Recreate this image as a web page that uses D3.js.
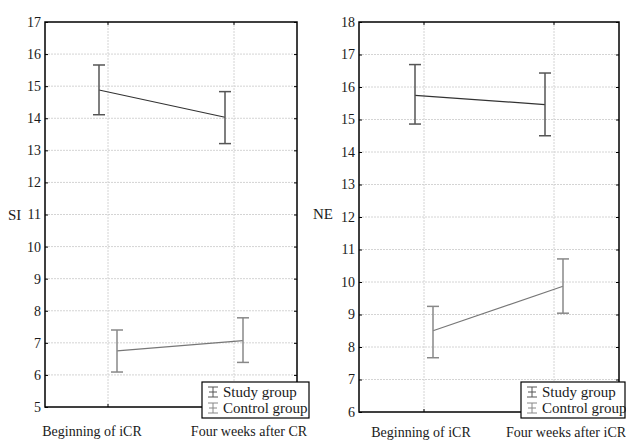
<!DOCTYPE html>
<html><head><meta charset="utf-8">
<script src="https://cdn.jsdelivr.net/npm/d3@7"></script>
<style>body{margin:0;background:#fff;}svg text{font-family:"Liberation Serif","Times New Roman",serif;}</style>
</head><body>
<script>
const groups = ["Study group", "Control group"];
const categoriesSI = ["Beginning of iCR", "Four weeks after CR"];
const categoriesNE = ["Beginning of iCR", "Four weeks after iCR"];
// SI panel: [mean, lower, upper]
const siStudy   = [[14.88, 14.11, 15.66], [14.03, 13.21, 14.83]];
const siControl = [[6.75, 6.09, 7.40], [7.07, 6.39, 7.78]];
// NE panel
const neStudy   = [[15.74, 14.86, 16.69], [15.46, 14.50, 16.43]];
const neControl = [[8.50, 7.67, 9.25], [9.87, 9.04, 10.71]];
const siTicks = [5,6,7,8,9,10,11,12,13,14,15,16,17];
const neTicks = [6,7,8,9,10,11,12,13,14,15,16,17,18];

const W = 626, H = 441;
const FONT = '"Liberation Serif","Times New Roman",serif';
const svg = d3.select("body").append("svg").attr("width", W).attr("height", H);

const groupColor = ["#555", "#888"];
const lineColor = ["#333", "#777"];
const dodge = [-9, 9];

function panel(cfg) {
  const g = svg.append("g");
  const x = d3.scaleBand().domain(cfg.cats).range([cfg.x0, cfg.x1]).padding(0);
  const y = d3.scaleLinear().domain([cfg.ticks[0], cfg.ticks[cfg.ticks.length-1]]).range([cfg.y1, cfg.y0]);
  const cx = c => x(c) + x.bandwidth()/2;

  // grid
  g.selectAll(".hg").data(cfg.ticks.slice(1, -1)).join("line")
    .attr("x1", cfg.x0).attr("x2", cfg.x1).attr("y1", d => y(d)).attr("y2", d => y(d))
    .attr("stroke", "#d4d4d4").attr("stroke-width", 1).attr("stroke-dasharray", "2,1");
  g.selectAll(".vg").data(cfg.cats).join("line")
    .attr("x1", cx).attr("x2", cx).attr("y1", cfg.y0).attr("y2", cfg.y1)
    .attr("stroke", "#d4d4d4").attr("stroke-width", 1).attr("stroke-dasharray", "2,1");

  // axes
  const yl = d3.axisLeft(y).tickValues(cfg.ticks).tickSize(-3).tickPadding(4);
  const ga = g.append("g").attr("transform", `translate(${cfg.x0},0)`).call(yl);
  ga.select(".domain").remove();
  ga.selectAll("text").attr("font-size", 14).attr("fill", "#1a1a1a").style("font-family", FONT);
  ga.selectAll("line").attr("stroke", "#000");
  const yr = d3.axisRight(y).tickValues(cfg.ticks).tickSize(-3).tickFormat("");
  const gr = g.append("g").attr("transform", `translate(${cfg.x1},0)`).call(yr);
  gr.select(".domain").remove();
  const xb = d3.axisBottom(x).tickSize(-3).tickFormat("");
  const gb = g.append("g").attr("transform", `translate(0,${cfg.y1})`).call(xb);
  gb.select(".domain").remove();
  const xt = d3.axisTop(x).tickSize(-3).tickFormat("");
  const gt = g.append("g").attr("transform", `translate(0,${cfg.y0})`).call(xt);
  gt.select(".domain").remove();

  g.append("rect").attr("x", cfg.x0).attr("y", cfg.y0).attr("width", cfg.x1 - cfg.x0).attr("height", cfg.y1 - cfg.y0)
    .attr("fill", "none").attr("stroke", "#000").attr("stroke-width", 1.5);

  // x labels
  g.selectAll(".xl").data(cfg.cats).join("text")
    .attr("x", (d, i) => cx(d) + cfg.labelDx[i]).attr("y", cfg.labelY)
    .attr("text-anchor", "middle").attr("font-size", 14).attr("fill", "#1a1a1a").style("font-family", FONT).text(d => d);

  // y title
  g.append("text").attr("x", cfg.titleX).attr("y", cfg.titleY).attr("font-size", 15).attr("fill", "#1a1a1a")
    .style("font-family", FONT).text(cfg.title);

  // series
  cfg.series.forEach((s, gi) => {
    const px = (i) => cx(cfg.cats[i]) + dodge[gi];
    const sg = g.append("g");
    sg.append("path").datum(s)
      .attr("d", d3.line().x((d, i) => px(i)).y(d => y(d[0])))
      .attr("fill", "none").attr("stroke", lineColor[gi]).attr("stroke-width", 1.2);
    s.forEach((d, i) => {
      const xx = px(i);
      sg.append("line").attr("x1", xx).attr("x2", xx).attr("y1", y(d[1])).attr("y2", y(d[2]))
        .attr("stroke", groupColor[gi]).attr("stroke-width", 1.5);
      [d[1], d[2]].forEach(v => sg.append("line").attr("x1", xx - 6).attr("x2", xx + 6).attr("y1", y(v)).attr("y2", y(v))
        .attr("stroke", groupColor[gi]).attr("stroke-width", 1.5));
    });
  });

  // legend
  const lg = g.append("g");
  lg.append("rect").attr("x", cfg.legX).attr("y", 382).attr("width", cfg.legW).attr("height", 36)
    .attr("fill", "#fff").attr("stroke", "#000").attr("stroke-width", 1.2);
  groups.forEach((name, gi) => {
    const yy = 392 + gi * 16;
    const sx = cfg.legX + 11;
    const col = groupColor[gi];
    [[sx - 5, sx + 5, yy - 5, yy - 5], [sx - 5, sx + 5, yy + 5, yy + 5], [sx - 4, sx + 4, yy, yy], [sx, sx, yy - 5, yy + 5]]
      .forEach(l => lg.append("line").attr("x1", l[0]).attr("x2", l[1]).attr("y1", l[2]).attr("y2", l[3])
        .attr("stroke", col).attr("stroke-width", 1));
    lg.append("text").attr("x", sx + 10).attr("y", yy + 5).attr("font-size", 15).attr("fill", "#1a1a1a")
      .style("font-family", FONT).text(name);
  });
}

panel({cats: categoriesSI, ticks: siTicks, x0: 45, x1: 297, y0: 22, y1: 407,
  series: [siStudy, siControl], labelDx: [-16, 15], labelY: 436, title: "SI", titleX: 8, titleY: 220,
  legX: 202, legW: 107});
panel({cats: categoriesNE, ticks: neTicks, x0: 359, x1: 619, y0: 22, y1: 412,
  series: [neStudy, neControl], labelDx: [-3, 12], labelY: 437, title: "NE", titleX: 313, titleY: 219,
  legX: 521, legW: 104});
</script>
</body></html>
